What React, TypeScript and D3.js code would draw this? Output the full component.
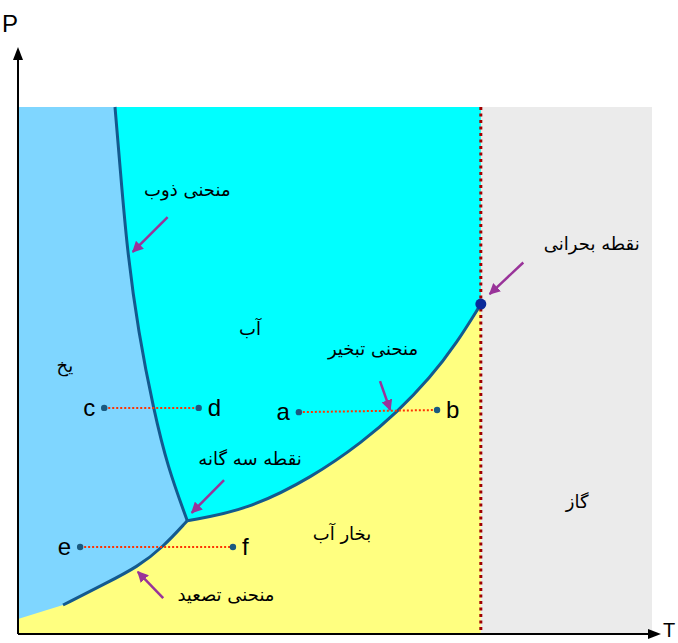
import React from "react";
import * as d3 from "d3";

// Phase-diagram data (T, P in arbitrary 0..100 units)
const criticalT = 73.0;
const criticalPoint: [number, number] = [73.0, 62.6];
const meltingCurve: [number, number][] = [
  [26.7, 21.5], [23.6, 31.7], [21.4, 42.5], [19.0, 57.1], [17.2, 72.9], [16.1, 88.6], [15.3, 100],
];
const evaporationCurve: [number, number][] = [
  [26.7, 21.5], [36.1, 23.5], [46.5, 29.8], [54.4, 36.5], [59.8, 42.1], [65.0, 48.6], [69.2, 55.2], [73.0, 62.6],
];
const sublimationCurve: [number, number][] = [
  [7.1, 5.5], [14.0, 9.7], [18.8, 12.7], [22.9, 16.5], [26.7, 21.5],
];
const iceEdgeStart: [number, number] = [0, 2.85];
const processes = [
  { from: [13.6, 42.9], to: [28.5, 42.9], l1: "c", l2: "d" },
  { from: [44.3, 42.1], to: [66.1, 42.5], l1: "a", l2: "b" },
  { from: [9.8, 16.5], to: [33.9, 16.5], l1: "e", l2: "f" },
];
const arrows = [
  { tail: [23.6, 79.1], head: [18.1, 72.5] },
  { tail: [79.7, 70.5], head: [74.4, 64.5] },
  { tail: [57.1, 48.0], head: [58.7, 42.5] },
  { tail: [32.5, 29.2], head: [27.4, 23.0] },
  { tail: [22.9, 6.8], head: [18.9, 11.8] },
];
const labels = [
  { t: 26.7, p: 83.1, text: "منحنی ذوب" },
  { t: 90.5, p: 72.9, text: "نقطه بحرانی" },
  { t: 36.6, p: 56.7, text: "آب" },
  { t: 56.0, p: 52.9, text: "منحنی تبخیر" },
  { t: 7.4, p: 49.7, text: "یخ" },
  { t: 36.6, p: 32.1, text: "نقطه سه گانه" },
  { t: 51.1, p: 17.8, text: "بخار آب" },
  { t: 88.2, p: 23.9, text: "گاز" },
  { t: 32.8, p: 6.3, text: "منحنی تصعید" },
];

const W = 678, H = 643;
const x = d3.scaleLinear().domain([0, 100]).range([18, 652]);
const y = d3.scaleLinear().domain([0, 100]).range([634, 107]);

export default function App() {
  const line = d3.line<[number, number]>().x(d => x(d[0])).y(d => y(d[1])).curve(d3.curveBasis);

  const meltPath = line(meltingCurve)!;
  const evapPath = line(evaporationCurve)!;
  const sublPath = line(sublimationCurve)!;
  const meltRev = line(meltingCurve.slice().reverse())!;
  const sublRev = line(sublimationCurve.slice().reverse())!;
  const evapRev = line(evaporationCurve.slice().reverse())!;
  const meltTop = meltingCurve[meltingCurve.length - 1];

  const icePath =
    `M${x(0)},${y(100)} L${x(meltTop[0])},${y(100)} ` +
    meltRev.replace(/^M/, "L") + " " +
    sublRev.replace(/^M/, "L") + " " +
    `L${x(iceEdgeStart[0])},${y(iceEdgeStart[1])} Z`;
  const waterPath =
    `M${x(meltTop[0])},${y(100)} L${x(criticalT)},${y(100)} L${x(criticalPoint[0])},${y(criticalPoint[1])} ` +
    evapRev.replace(/^M/, "L") + " " +
    meltPath.replace(/^M/, "L") + " Z";

  const purple = "#993399";
  const curveColor = "#135a8f";
  const dotColor = "#1a5a80";
  const persianFont = "'DejaVu Sans', sans-serif";
  const latinFont = "Arial, 'Liberation Sans', sans-serif";

  return (
    <svg width={W} height={H} style={{ position: "absolute", left: 0, top: 0, background: "#fff" }}>
      <defs>
        <marker id="ph" viewBox="0 0 10 10" refX="9" refY="5" markerWidth="4.5" markerHeight="4.5" orient="auto" markerUnits="strokeWidth">
          <path d="M0,0 L10,5 L0,10 Z" fill={purple} />
        </marker>
      </defs>
      <rect x={x(0)} y={y(100)} width={x(criticalT) - x(0)} height={y(0) - y(100)} fill="#ffff80" />
      <rect x={x(criticalT)} y={y(100)} width={x(100) - x(criticalT)} height={y(0) - y(100)} fill="#ebebeb" />
      <path d={waterPath} fill="#00ffff" />
      <path d={icePath} fill="#7fd6ff" />
      <path d={meltPath} fill="none" stroke={curveColor} strokeWidth={3} />
      <path d={evapPath} fill="none" stroke={curveColor} strokeWidth={3} />
      <path d={sublPath} fill="none" stroke={curveColor} strokeWidth={3} />
      <line x1={x(criticalT)} x2={x(criticalT)} y1={y(100)} y2={y(0)} stroke="#a00000" strokeWidth={3} strokeDasharray="3,3.5" />
      <circle cx={x(criticalPoint[0])} cy={y(criticalPoint[1])} r={5.5} fill="#0a2a9a" />
      {processes.map((pr, i) => (
        <g key={i}>
          <line x1={x(pr.from[0])} y1={y(pr.from[1])} x2={x(pr.to[0])} y2={y(pr.to[1])} stroke="#ff3300" strokeWidth={2} strokeDasharray="2,2" />
          <circle cx={x(pr.from[0])} cy={y(pr.from[1])} r={3.2} fill={dotColor} />
          <circle cx={x(pr.to[0])} cy={y(pr.to[1])} r={3.2} fill={dotColor} />
          <text x={x(pr.from[0]) - 9} y={y(pr.from[1]) + 8} fontFamily={latinFont} fontSize={24} textAnchor="end">{pr.l1}</text>
          <text x={x(pr.to[0]) + 9} y={y(pr.to[1]) + 8} fontFamily={latinFont} fontSize={24} textAnchor="start">{pr.l2}</text>
        </g>
      ))}
      {arrows.map((a, i) => (
        <line key={i} x1={x(a.tail[0])} y1={y(a.tail[1])} x2={x(a.head[0])} y2={y(a.head[1])} stroke={purple} strokeWidth={2.5} markerEnd="url(#ph)" />
      ))}
      {labels.map((l, i) => (
        <text key={i} x={x(l.t)} y={y(l.p)} fontFamily={persianFont} fontSize={18} textAnchor="middle" direction="rtl">{l.text}</text>
      ))}
      <line x1={x(0)} y1={y(0)} x2={x(0)} y2={56} stroke="#000" strokeWidth={2} />
      <path d={`M${x(0)},47 L${x(0) - 5},60 L${x(0) + 5},60 Z`} fill="#000" />
      <line x1={x(0)} y1={y(0)} x2={656} y2={y(0)} stroke="#000" strokeWidth={2} />
      <path d={`M661,${y(0)} L648,${y(0) - 5} L648,${y(0) + 5} Z`} fill="#000" />
      <text x={10} y={32} fontFamily={latinFont} fontSize={24} textAnchor="middle">P</text>
      <text x={669} y={637} fontFamily={latinFont} fontSize={20} textAnchor="middle">T</text>
    </svg>
  );
}
